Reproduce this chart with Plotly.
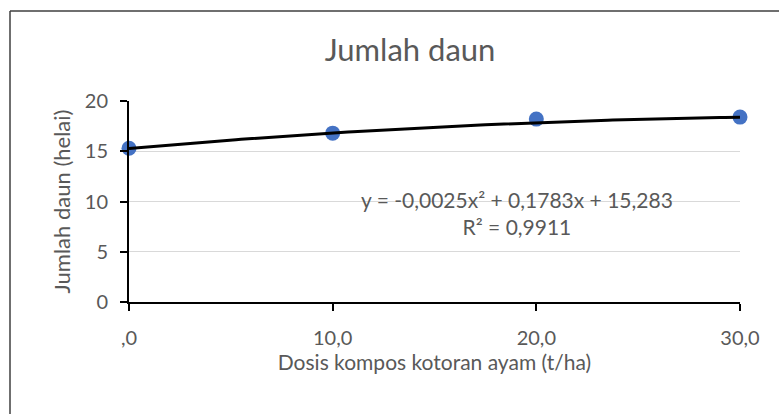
import numpy as np
import plotly.graph_objects as go

# Data
dosis = [0, 10, 20, 30]
jumlah_daun = [15.3, 16.8, 18.2, 18.4]
x_tick_vals = [0, 10, 20, 30]
x_tick_text = [",0", "10,0", "20,0", "30,0"]
y_tick_vals = [0, 5, 10, 15, 20]
trend_coefs = [-0.0025, 0.1783, 15.283]  # displayed polynomial trendline
chart_title = "Jumlah daun"
x_title = "Dosis kompos kotoran ayam (t/ha)"
y_title = "Jumlah daun (helai)"
eq_text = "y = -0,0025x² + 0,1783x + 15,283<br>R² = 0,9911"

FONT = "Lato, Calibri, Carlito, sans-serif"
GREY = "#595959"

xs = np.linspace(min(dosis), max(dosis), 121)
ys = np.polyval(trend_coefs, xs)

fig = go.Figure()
fig.add_trace(go.Scatter(x=dosis, y=jumlah_daun, mode="markers",
                         marker=dict(color="#4472C4", size=15),
                         showlegend=False, cliponaxis=False))
fig.add_trace(go.Scatter(x=xs, y=ys, mode="lines",
                         line=dict(color="black", width=3),
                         showlegend=False, cliponaxis=False))

W, H = 779, 414
L, R, T, B = 129, 39, 101, 112
pw, ph = W - L - R, H - T - B

def px2paper_x(px):
    return (px - L) / pw

def px2paper_y(py):
    return (H - B - py) / ph

border = dict(color="#3f3f3f", width=1.5)

fig.update_layout(
    width=W, height=H,
    margin=dict(l=L, r=R, t=T, b=B),
    paper_bgcolor="white", plot_bgcolor="white",
    font=dict(family=FONT, color=GREY, size=20),
    title=dict(text=chart_title, x=(410 / W), xanchor="center", y=1 - 50 / H, yanchor="middle",
               font=dict(size=31, color=GREY, family=FONT)),
    xaxis=dict(range=[0, 30], tickvals=x_tick_vals, ticktext=x_tick_text,
               showgrid=False, zeroline=False, showline=True, linecolor="black", linewidth=2,
               ticks="outside", ticklen=7, tickwidth=2, tickcolor="black",
               tickfont=dict(size=20, color=GREY), ticklabelstandoff=10,
               title=dict(text=x_title, font=dict(size=21, color=GREY), standoff=0)),
    yaxis=dict(range=[0, 20], tickvals=y_tick_vals,
               showgrid=True, gridcolor="#d9d9d9", gridwidth=1, zeroline=False,
               showline=True, linecolor="black", linewidth=2,
               ticks="outside", ticklen=7, tickwidth=2, tickcolor="black",
               tickfont=dict(size=20, color=GREY), ticklabelstandoff=8,
               title=dict(text=y_title, font=dict(size=22, color=GREY), standoff=8)),
    shapes=[
        dict(type="line", xref="paper", yref="paper",
             x0=px2paper_x(10), x1=px2paper_x(10), y0=px2paper_y(414), y1=px2paper_y(11),
             line=border, layer="below"),
        dict(type="line", xref="paper", yref="paper",
             x0=px2paper_x(10), x1=px2paper_x(779), y0=px2paper_y(11), y1=px2paper_y(11),
             line=border, layer="below"),
    ],
    annotations=[dict(text=eq_text, xref="paper", yref="paper",
                      x=px2paper_x(517), y=px2paper_y(213), xanchor="center", yanchor="middle",
                      showarrow=False, align="center",
                      font=dict(size=21, color=GREY, family=FONT))],
)

post = (
    "document.documentElement.style.overflow='hidden';"
    "document.body.style.margin='0';document.body.style.overflow='hidden';"
    "var d=document.querySelector('.plotly-graph-div');"
    "if(d){d.style.position='fixed';d.style.left='0';d.style.top='0';}"
)
fig.write_html("out.html", config={"displayModeBar": False}, post_script=post)
